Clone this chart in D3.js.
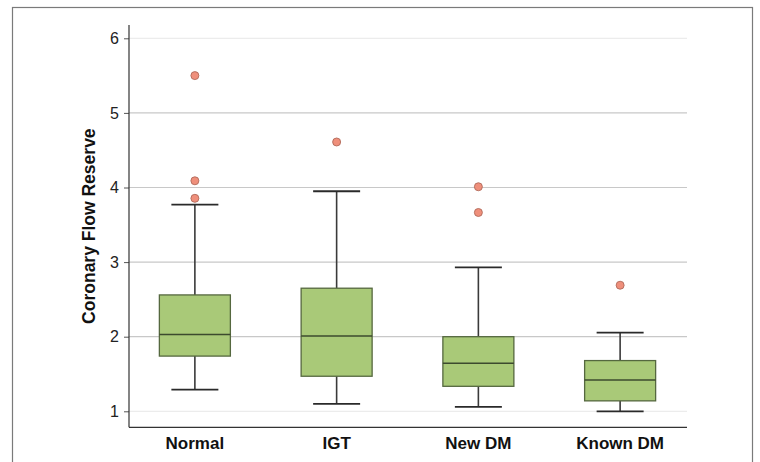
<!DOCTYPE html>
<html><head><meta charset="utf-8">
<script src="https://cdn.jsdelivr.net/npm/d3@7"></script>
<style>body{margin:0;background:#fff}svg{display:block}</style>
</head><body>
<script>
const categories = ["Normal", "IGT", "New DM", "Known DM"];
const lowerWhisker = [1.29, 1.10, 1.06, 1.00];
const q1 = [1.74, 1.47, 1.335, 1.14];
const median = [2.03, 2.01, 1.645, 1.42];
const q3 = [2.56, 2.65, 2.00, 1.68];
const upperWhisker = [3.77, 3.95, 2.93, 2.055];
const outliers = [[5.50, 4.09, 3.855], [4.61], [4.01, 3.665], [2.69]];
const yTicks = [1, 2, 3, 4, 5, 6];

const W = 760, H = 462;
const svg = d3.select("body").append("svg").attr("width", W).attr("height", H);

// frame
svg.append("rect").attr("x", 12.5).attr("y", 7.5).attr("width", 740).attr("height", 470)
  .attr("fill", "none").attr("stroke", "#7a7a7a").attr("stroke-width", 1.2);

const x0 = 129, x1 = 687, yTop = 25, yBot = 427.3;
const y = d3.scaleLinear().domain([1, 6]).range([411.3, 38.3]);
const x = d3.scaleBand().domain(categories).range([124, 691]).paddingInner(0).paddingOuter(0);
const bw = 71, cw = 47;

// grid
svg.append("g").selectAll("line").data(yTicks).join("line")
  .attr("x1", x0).attr("x2", x1)
  .attr("y1", d => y(d)).attr("y2", d => y(d))
  .attr("stroke", d => (d === 1 || d === 6) ? "#ececec" : "#c8c8c8").attr("stroke-width", 1.2);

// y axis
const yAxis = d3.axisLeft(y).tickValues(yTicks).tickSize(5).tickPadding(5).tickFormat(d3.format("d"));
const gy = svg.append("g").attr("transform", `translate(${x0},0)`).call(yAxis);
gy.select(".domain").remove();
gy.selectAll(".tick line").attr("stroke", "#555");
gy.selectAll(".tick text").attr("font-family", "Liberation Sans, Arial, sans-serif").attr("font-size", 16).attr("fill", "#222");
svg.append("line").attr("x1", x0).attr("x2", x0).attr("y1", yTop).attr("y2", yBot).attr("stroke", "#333").attr("stroke-width", 1.2);

// x axis
const xAxis = d3.axisBottom(x).tickSize(0).tickPadding(10);
const gx = svg.append("g").attr("transform", `translate(0,${yBot})`).call(xAxis);
gx.select(".domain").remove();
gx.selectAll(".tick text").attr("font-family", "Liberation Sans, Arial, sans-serif").attr("font-size", 17)
  .attr("font-weight", "bold").attr("fill", "#111");
svg.append("line").attr("x1", x0).attr("x2", x1).attr("y1", yBot).attr("y2", yBot).attr("stroke", "#333").attr("stroke-width", 1.2);

// y title
svg.append("text").attr("transform", `translate(95,${(yTop + yBot) / 2}) rotate(-90)`)
  .attr("text-anchor", "middle").attr("font-family", "Liberation Sans, Arial, sans-serif")
  .attr("font-size", 17.5).attr("font-weight", "bold").attr("fill", "#111").text("Coronary Flow Reserve");

const cx = i => x(categories[i]) + x.bandwidth() / 2;
const g = svg.append("g");
categories.forEach((c, i) => {
  const X = cx(i);
  // whiskers
  g.append("line").attr("x1", X).attr("x2", X).attr("y1", y(upperWhisker[i])).attr("y2", y(q3[i])).attr("stroke", "#3a3a3a").attr("stroke-width", 1.6);
  g.append("line").attr("x1", X).attr("x2", X).attr("y1", y(q1[i])).attr("y2", y(lowerWhisker[i])).attr("stroke", "#3a3a3a").attr("stroke-width", 1.6);
  g.append("line").attr("x1", X - cw / 2).attr("x2", X + cw / 2).attr("y1", y(upperWhisker[i])).attr("y2", y(upperWhisker[i])).attr("stroke", "#2a2a2a").attr("stroke-width", 1.8);
  g.append("line").attr("x1", X - cw / 2).attr("x2", X + cw / 2).attr("y1", y(lowerWhisker[i])).attr("y2", y(lowerWhisker[i])).attr("stroke", "#2a2a2a").attr("stroke-width", 1.8);
  // box
  g.append("rect").attr("x", X - bw / 2).attr("width", bw).attr("y", y(q3[i])).attr("height", y(q1[i]) - y(q3[i]))
    .attr("fill", "#a9c978").attr("stroke", "#55683f").attr("stroke-width", 1.3);
  g.append("line").attr("x1", X - bw / 2).attr("x2", X + bw / 2).attr("y1", y(median[i])).attr("y2", y(median[i])).attr("stroke", "#3c4a2e").attr("stroke-width", 1.6);
  // outliers
  g.selectAll(null).data(outliers[i]).join("circle").attr("cx", X).attr("cy", d => y(d)).attr("r", 4)
    .attr("fill", "#ef8f7b").attr("stroke", "#b06a5a").attr("stroke-width", 0.9);
});
</script>
</body></html>
